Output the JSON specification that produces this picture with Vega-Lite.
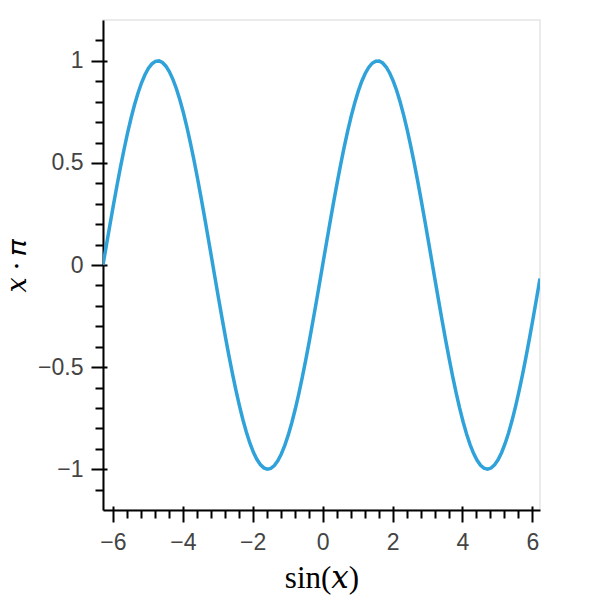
{
  "$schema": "https://vega.github.io/schema/vega-lite/v6.json",
  "width": 437,
  "height": 490,
  "autosize": "none",
  "padding": {"left": 103, "top": 20, "right": 60, "bottom": 90},
  "background": "white",
  "config": {
    "view": {"stroke": "#e5e5e5", "strokeWidth": 1.5},
    "axis": {"grid": false}
  },
  "data": {
    "values": [
      {"x": -6.283, "y": 0.0},
      {"x": -6.183, "y": 0.0998},
      {"x": -6.083, "y": 0.1987},
      {"x": -5.983, "y": 0.2955},
      {"x": -5.883, "y": 0.3894},
      {"x": -5.783, "y": 0.4794},
      {"x": -5.683, "y": 0.5646},
      {"x": -5.583, "y": 0.6442},
      {"x": -5.483, "y": 0.7174},
      {"x": -5.383, "y": 0.7833},
      {"x": -5.283, "y": 0.8415},
      {"x": -5.183, "y": 0.8912},
      {"x": -5.083, "y": 0.932},
      {"x": -4.983, "y": 0.9636},
      {"x": -4.883, "y": 0.9854},
      {"x": -4.783, "y": 0.9975},
      {"x": -4.683, "y": 0.9996},
      {"x": -4.583, "y": 0.9917},
      {"x": -4.483, "y": 0.9738},
      {"x": -4.383, "y": 0.9463},
      {"x": -4.283, "y": 0.9093},
      {"x": -4.183, "y": 0.8632},
      {"x": -4.083, "y": 0.8085},
      {"x": -3.983, "y": 0.7457},
      {"x": -3.883, "y": 0.6755},
      {"x": -3.783, "y": 0.5985},
      {"x": -3.683, "y": 0.5155},
      {"x": -3.583, "y": 0.4274},
      {"x": -3.483, "y": 0.335},
      {"x": -3.383, "y": 0.2392},
      {"x": -3.283, "y": 0.1411},
      {"x": -3.183, "y": 0.0416},
      {"x": -3.083, "y": -0.0584},
      {"x": -2.983, "y": -0.1577},
      {"x": -2.883, "y": -0.2555},
      {"x": -2.783, "y": -0.3508},
      {"x": -2.683, "y": -0.4425},
      {"x": -2.583, "y": -0.5298},
      {"x": -2.483, "y": -0.6119},
      {"x": -2.383, "y": -0.6878},
      {"x": -2.283, "y": -0.7568},
      {"x": -2.183, "y": -0.8183},
      {"x": -2.083, "y": -0.8716},
      {"x": -1.983, "y": -0.9162},
      {"x": -1.883, "y": -0.9516},
      {"x": -1.783, "y": -0.9775},
      {"x": -1.683, "y": -0.9937},
      {"x": -1.583, "y": -0.9999},
      {"x": -1.483, "y": -0.9962},
      {"x": -1.383, "y": -0.9825},
      {"x": -1.283, "y": -0.9589},
      {"x": -1.183, "y": -0.9258},
      {"x": -1.083, "y": -0.8835},
      {"x": -0.983, "y": -0.8323},
      {"x": -0.883, "y": -0.7728},
      {"x": -0.783, "y": -0.7055},
      {"x": -0.683, "y": -0.6313},
      {"x": -0.583, "y": -0.5507},
      {"x": -0.483, "y": -0.4646},
      {"x": -0.383, "y": -0.3739},
      {"x": -0.283, "y": -0.2794},
      {"x": -0.183, "y": -0.1822},
      {"x": -0.083, "y": -0.0831},
      {"x": 0.017, "y": 0.0168},
      {"x": 0.117, "y": 0.1165},
      {"x": 0.217, "y": 0.2151},
      {"x": 0.317, "y": 0.3115},
      {"x": 0.417, "y": 0.4048},
      {"x": 0.517, "y": 0.4941},
      {"x": 0.617, "y": 0.5784},
      {"x": 0.717, "y": 0.657},
      {"x": 0.817, "y": 0.729},
      {"x": 0.917, "y": 0.7937},
      {"x": 1.017, "y": 0.8504},
      {"x": 1.117, "y": 0.8987},
      {"x": 1.217, "y": 0.938},
      {"x": 1.317, "y": 0.9679},
      {"x": 1.417, "y": 0.9882},
      {"x": 1.517, "y": 0.9985},
      {"x": 1.617, "y": 0.9989},
      {"x": 1.717, "y": 0.9894},
      {"x": 1.817, "y": 0.9699},
      {"x": 1.917, "y": 0.9407},
      {"x": 2.017, "y": 0.9022},
      {"x": 2.117, "y": 0.8546},
      {"x": 2.217, "y": 0.7985},
      {"x": 2.317, "y": 0.7344},
      {"x": 2.417, "y": 0.663},
      {"x": 2.517, "y": 0.5849},
      {"x": 2.617, "y": 0.501},
      {"x": 2.717, "y": 0.4121},
      {"x": 2.817, "y": 0.3191},
      {"x": 2.917, "y": 0.2229},
      {"x": 3.017, "y": 0.1245},
      {"x": 3.117, "y": 0.0248},
      {"x": 3.217, "y": -0.0752},
      {"x": 3.317, "y": -0.1743},
      {"x": 3.417, "y": -0.2718},
      {"x": 3.517, "y": -0.3665},
      {"x": 3.617, "y": -0.4575},
      {"x": 3.717, "y": -0.544},
      {"x": 3.817, "y": -0.6251},
      {"x": 3.917, "y": -0.6999},
      {"x": 4.017, "y": -0.7677},
      {"x": 4.117, "y": -0.8278},
      {"x": 4.217, "y": -0.8797},
      {"x": 4.317, "y": -0.9227},
      {"x": 4.417, "y": -0.9566},
      {"x": 4.517, "y": -0.9809},
      {"x": 4.617, "y": -0.9954},
      {"x": 4.717, "y": -1.0},
      {"x": 4.817, "y": -0.9946},
      {"x": 4.917, "y": -0.9792},
      {"x": 5.017, "y": -0.9541},
      {"x": 5.117, "y": -0.9193},
      {"x": 5.217, "y": -0.8755},
      {"x": 5.317, "y": -0.8228},
      {"x": 5.417, "y": -0.762},
      {"x": 5.517, "y": -0.6935},
      {"x": 5.617, "y": -0.6181},
      {"x": 5.717, "y": -0.5366},
      {"x": 5.817, "y": -0.4497},
      {"x": 5.917, "y": -0.3582},
      {"x": 6.017, "y": -0.2633},
      {"x": 6.117, "y": -0.1656},
      {"x": 6.217, "y": -0.0663}
    ]
  },
  "resolve": {"axis": {"x": "independent", "y": "independent"}},
  "layer": [
    {
      "mark": {"type": "line", "color": "#30a2da", "strokeWidth": 3.5, "clip": true},
      "encoding": {
        "x": {
          "field": "x",
          "type": "quantitative",
          "scale": {"domain": [-6.283, 6.217], "nice": false, "zero": false},
          "axis": {
            "orient": "bottom",
            "values": [-6, -5.6, -5.2, -4.8, -4.4, -4, -3.6, -3.2, -2.8, -2.4, -2, -1.6, -1.2, -0.8, -0.4, 0, 0.4, 0.8, 1.2, 1.6, 2, 2.4, 2.8, 3.2, 3.6, 4, 4.4, 4.8, 5.2, 5.6, 6],
            "format": "~g",
            "labelExpr": "datum.value % 2 === 0 ? datum.label : ''",
            "tickSize": {"condition": {"test": "datum.value % 2 === 0", "value": 12}, "value": 8},
            "tickColor": "black",
            "tickWidth": 2,
            "domainColor": "black",
            "domainWidth": 2,
            "labelFont": "Liberation Sans",
            "labelFontSize": 23,
            "labelColor": "#444444",
            "labelPadding": 9,
            "labelFlush": false,
            "labelOverlap": false,
            "title": "sin(𝑥)",
            "titleFont": "Liberation Serif, DejaVu Serif",
            "titleFontSize": 31,
            "titleFontWeight": "normal",
            "titleColor": "black",
            "titlePadding": 9
          }
        },
        "y": {
          "field": "y",
          "type": "quantitative",
          "scale": {"domain": [-1.2, 1.2], "nice": false, "zero": false},
          "axis": {
            "orient": "left",
            "values": [-1.1, -1, -0.9, -0.8, -0.7, -0.6, -0.5, -0.4, -0.3, -0.2, -0.1, 0, 0.1, 0.2, 0.3, 0.4, 0.5, 0.6, 0.7, 0.8, 0.9, 1, 1.1],
            "labelExpr": "(datum.value * 2) % 1 === 0 ? datum.label : ''",
            "format": "~g",
            "tickSize": {"condition": {"test": "(datum.value * 2) % 1 === 0", "value": 12}, "value": 8},
            "tickColor": "black",
            "tickWidth": 2,
            "domainColor": "black",
            "domainWidth": 2,
            "labelFont": "Liberation Sans",
            "labelFontSize": 23,
            "labelColor": "#444444",
            "labelPadding": 8,
            "labelFlush": false,
            "labelOverlap": false,
            "title": "𝑥 ⋅ 𝜋",
            "titleFont": "Liberation Serif, DejaVu Serif",
            "titleFontSize": 27,
            "titleFontWeight": "normal",
            "titleColor": "black",
            "titlePadding": 6
          }
        }
      }
    },
    {
      "mark": {"type": "line", "opacity": 0},
      "encoding": {
        "x": {
          "field": "x",
          "type": "quantitative",
          "axis": {
            "orient": "bottom",
            "values": [-6, -4, -2, 0, 2, 4, 6],
            "offset": -4,
            "tickSize": 4,
            "tickColor": "black",
            "tickWidth": 2,
            "domain": false,
            "labels": false,
            "title": null
          }
        },
        "y": {
          "field": "y",
          "type": "quantitative",
          "axis": {
            "orient": "left",
            "values": [-1, -0.5, 0, 0.5, 1],
            "offset": -4,
            "tickSize": 4,
            "tickColor": "black",
            "tickWidth": 2,
            "domain": false,
            "labels": false,
            "title": null
          }
        }
      }
    }
  ]
}
